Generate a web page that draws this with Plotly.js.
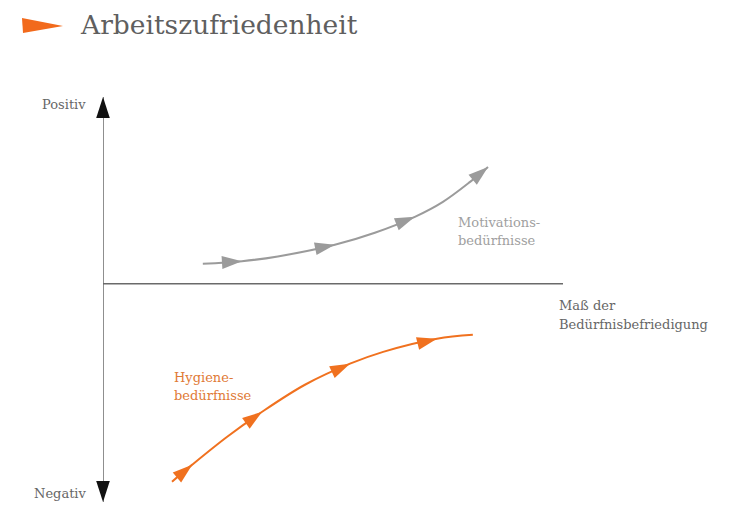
<!DOCTYPE html>
<html>
<head>
<meta charset="utf-8">
<script src="https://cdn.plot.ly/plotly-3.0.1.min.js"></script>
<style>
  html, body { margin: 0; padding: 0; background: #fff; }
  #chart { width: 750px; height: 509px; }
</style>
</head>
<body>
<div id="chart"></div>
<script>
// Herzberg: Zufriedenheit vs. Maß der Bedürfnisbefriedigung (0..10 / -11.8..10.1)
const motivX = [2.17, 3.02, 3.80, 5.04, 5.91, 6.78, 7.39, 7.98, 8.37];
const motivY = [1.08, 1.22, 1.48, 2.11, 2.76, 3.62, 4.43, 5.51, 6.32];
const motivArrows = [0, 1, 0, 1, 0, 1, 0, 0, 1];

const hygX = [1.50, 1.94, 2.70, 3.46, 4.39, 5.37, 6.09, 7.26, 8.04];
const hygY = [-10.70, -9.78, -8.27, -6.92, -5.46, -4.32, -3.68, -2.97, -2.76];
const hygArrows = [0, 1, 0, 1, 0, 1, 0, 1, 0];

// axis ends (origin -> tip)
const xAxisEnd = 10.04;
const yAxisTop = 10.1;
const yAxisBottom = -11.8;

const W = 750, H = 509;
const M = { l: 103, r: 187, t: 97, b: 7 };
const PW = W - M.l - M.r, PH = H - M.t - M.b;
// pixel -> paper helpers for decoration / labels
const px = (x) => (x - M.l) / PW;
const py = (y) => (H - M.b - y) / PH;

const GREY = '#9b9b9b';
const ORANGE = '#f0711f';
const AXIS = '#6a6a6a';
const FONT = 'DejaVu Serif, serif';

function axisTrace(x, y) {
  return {
    x, y, mode: 'lines+markers', hoverinfo: 'skip', showlegend: false, cliponaxis: false,
    line: { color: AXIS, width: 1.5, backoff: 0 },
    marker: { symbol: 'arrow', angleref: 'previous', size: [0, 22], color: '#111', opacity: 1, line: { width: 0 } },
  };
}

function curveTrace(x, y, arrows, color) {
  return {
    x, y, mode: 'lines+markers', hoverinfo: 'skip', showlegend: false, cliponaxis: false,
    line: { color, width: 2, shape: 'spline', smoothing: 1, backoff: 0 },
    marker: {
      symbol: 'arrow', angleref: 'previous', size: arrows.map((a) => a ? 21 : 0),
      color, opacity: 1, line: { width: 0 },
    },
  };
}

const traces = [
  axisTrace([0, xAxisEnd], [0, 0]),
  axisTrace([0, 0], [0, yAxisTop]),
  axisTrace([0, 0], [0, yAxisBottom]),
  curveTrace(motivX, motivY, motivArrows, GREY),
  curveTrace(hygX, hygY, hygArrows, ORANGE),
];

function label(text, x, y, color, size, anchor) {
  return {
    text, xref: 'paper', yref: 'paper', x: px(x), y: py(y),
    xanchor: anchor || 'left', yanchor: 'middle', showarrow: false,
    font: { family: FONT, size: size || 13, color },
  };
}

const layout = {
  width: W, height: H,
  margin: M,
  paper_bgcolor: '#fff', plot_bgcolor: '#fff',
  xaxis: { range: [0, 10], visible: false, fixedrange: true },
  yaxis: { range: [yAxisBottom, yAxisTop], visible: false, fixedrange: true },
  shapes: [{
    type: 'path', xref: 'paper', yref: 'paper',
    path: `M${px(22)},${py(18)} L${px(63)},${py(26)} L${px(23)},${py(33)} Z`,
    fillcolor: '#f26a1c', line: { width: 0 },
  }],
  annotations: [
    label('Arbeitszufriedenheit', 78, 25, '#5f5f5f', 26.5),
    label('Positiv', 88, 104, '#666', 13, 'right'),
    label('Negativ', 89, 493, '#666', 13, 'right'),
    label('Maß der', 557, 305, '#666', 13),
    label('Bedürfnisbefriedigung', 557, 324, '#666', 13),
    label('Motivations-', 456, 222, '#a0a0a0', 13),
    label('bedürfnisse', 456, 241, '#a0a0a0', 13),
    label('Hygiene-', 172, 377, '#df7a36', 13),
    label('bedürfnisse', 172, 395, '#df7a36', 13),
  ],
};

Plotly.newPlot('chart', traces, layout, { displayModeBar: false, staticPlot: true });
</script>
</body>
</html>
